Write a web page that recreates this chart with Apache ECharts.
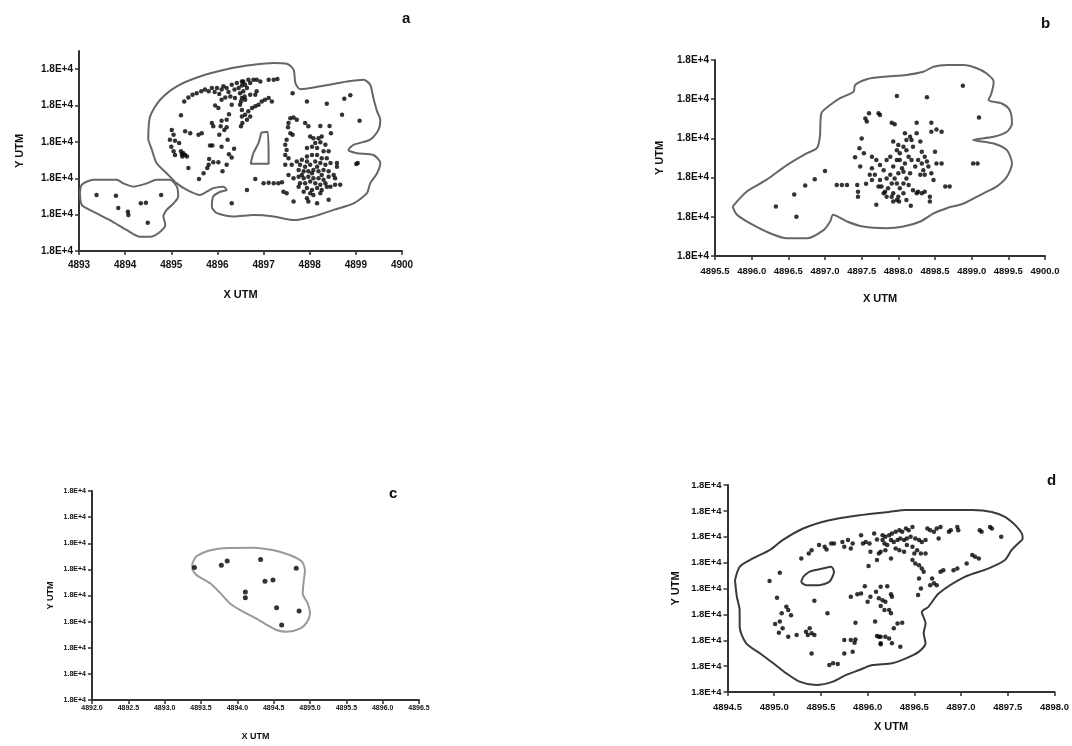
<!DOCTYPE html>
<html><head><meta charset="utf-8">
<script src="https://cdn.jsdelivr.net/npm/echarts@6/dist/echarts.min.js"></script>
<style>html,body{margin:0;padding:0;background:#fff}#c{width:1072px;height:746px}</style>
</head><body><div id="c"></div><script>
// ---- tick labels / axis texts ----
const yTickText = '1.8E+4';
const xName = 'X UTM';
const yName = 'Y UTM';
const panelLetters = ['a', 'b', 'c', 'd'];
const aXRange = [4893, 4900, 1];
const bXRange = [4895.5, 4900, 0.5];
const cXRange = [4892, 4896.5, 0.5];
const dXRange = [4894.5, 4898, 0.5];
const aYTicks = [0, 1, 2, 3, 4, 5];
const bYTicks = [0, 1, 2, 3, 4, 5];
const cYTicks = [0, 1, 2, 3, 4, 5, 6, 7, 8];
const dYTicks = [0, 1, 2, 3, 4, 5, 6, 7, 8];

// ---- panel a ----
const aHull = [[4894.50,3.06],[4894.54,3.70],[4894.76,4.16],[4895.12,4.53],[4895.62,4.80],[4896.20,5.00],[4896.78,5.12],[4897.22,5.17],[4897.50,5.15],[4897.65,4.99],[4897.69,4.62],[4897.79,4.45],[4898.23,4.53],[4898.81,4.66],[4899.17,4.71],[4899.31,4.57],[4899.38,4.21],[4899.46,3.84],[4899.53,3.61],[4899.49,3.33],[4899.31,3.06],[4898.95,2.92],[4898.84,2.78],[4899.02,2.69],[4899.38,2.64],[4899.53,2.42],[4899.46,2.14],[4899.31,1.86],[4899.24,1.59],[4898.95,1.31],[4898.52,1.13],[4898.08,0.95],[4897.65,0.85],[4897.22,0.95],[4896.78,0.99],[4896.35,0.95],[4895.99,1.04],[4895.88,1.22],[4895.91,1.50],[4896.06,1.63],[4896.20,1.68],[4896.13,1.77],[4895.91,1.73],[4895.77,1.63],[4895.62,1.54],[4895.34,1.68],[4895.12,1.86],[4894.90,2.14],[4894.68,2.42],[4894.58,2.78]];
const aHole = [[4896.95,3.26],[4897.09,3.28],[4897.11,2.40],[4896.72,2.40],[4896.78,2.69],[4896.89,2.97]];
const aHullSmall = [[4893.02,1.59],[4893.06,1.82],[4893.31,1.96],[4893.82,1.96],[4893.96,1.86],[4894.18,1.77],[4894.47,1.86],[4894.68,1.96],[4894.97,1.96],[4895.12,1.77],[4895.15,1.50],[4895.05,1.31],[4894.90,1.13],[4894.83,0.95],[4894.87,0.72],[4894.76,0.53],[4894.54,0.39],[4894.32,0.39],[4894.03,0.58],[4893.67,0.85],[4893.31,1.08],[4893.06,1.27]];
const aPoints = [
[4893.38,1.54],[4893.80,1.52],[4893.85,1.18],[4894.06,1.08],[4894.07,0.99],[4894.34,1.31],[4894.45,1.33],[4894.78,1.54],[4894.49,0.78],
[4895.28,4.11],[4895.37,4.22],[4895.46,4.30],[4895.55,4.34],[4895.65,4.39],[4895.73,4.44],[4895.81,4.39],[4895.88,4.48],[4895.94,4.37],[4895.99,4.48],[4896.04,4.32],[4896.09,4.44],[4896.13,4.53],[4896.20,4.48],[4896.24,4.37],[4896.31,4.57],[4896.37,4.44],[4896.42,4.62],[4896.46,4.48],[4896.49,4.34],[4896.53,4.55],[4896.56,4.66],[4896.59,4.25],[4896.51,4.11],[4896.38,4.21],[4896.28,4.25],[4896.17,4.22],[4896.09,4.16],[4895.95,4.00],[4896.02,3.93],[4896.31,4.02],[4896.25,3.76],[4896.20,3.61],[4896.09,3.58],[4896.07,3.43],[4896.15,3.33],[4896.20,3.40],[4895.88,3.52],[4895.91,3.43],[4896.04,3.20],[4896.22,3.06],[4896.36,2.81],[4896.25,2.66],[4896.31,2.57],[4896.20,2.37],[4896.11,2.19],[4896.02,2.44],[4895.91,2.44],[4895.82,2.53],[4895.81,2.37],[4895.78,2.28],[4895.70,2.14],[4895.60,1.98],[4895.37,2.28],[4895.21,3.73],[4895.30,3.29],[4895.41,3.24],[4895.59,3.20],[4895.66,3.24],[4895.01,3.33],[4895.05,3.20],[4894.97,3.06],[4895.08,3.03],[4895.17,2.97],[4895.00,2.87],[4895.05,2.74],[4895.08,2.64],[4895.21,2.74],[4895.26,2.69],[4895.30,2.64],[4895.24,2.60],[4895.34,2.60],[4895.23,2.66],[4895.84,2.90],[4895.89,2.90],[4896.09,2.87],[4896.51,3.43],[4896.54,3.52],[4896.53,3.70],[4896.49,4.02],[4896.31,1.31],
[4896.53,4.66],[4896.60,4.57],[4896.67,4.71],[4896.71,4.62],[4896.78,4.71],[4896.85,4.71],[4896.93,4.66],[4897.11,4.71],[4897.22,4.71],[4897.30,4.73],[4896.56,4.39],[4896.64,4.48],[4896.53,4.21],[4896.60,4.16],[4896.71,4.30],[4896.82,4.30],[4896.85,4.39],[4896.53,3.88],[4896.60,3.75],[4896.67,3.84],[4896.75,3.93],[4896.82,3.98],[4896.89,4.02],[4896.96,4.11],[4897.03,4.16],[4897.11,4.21],[4897.18,4.11],[4896.64,3.61],[4896.71,3.70],
[4897.63,4.34],[4897.94,4.11],[4898.37,4.05],[4898.75,4.19],[4898.88,4.28],[4898.70,3.75],[4899.08,3.58],[4899.01,2.39],[4899.04,2.42],[4896.82,1.98],[4897.00,1.86],[4897.11,1.88],[4897.22,1.86],[4897.32,1.86],[4897.40,1.89],[4896.64,1.68],
[4897.58,3.65],[4897.65,3.67],[4897.72,3.61],[4897.54,3.52],[4897.53,3.40],[4897.58,3.24],[4897.63,3.20],[4897.90,3.52],[4897.97,3.43],[4898.23,3.44],[4898.43,3.44],[4898.46,3.24],[4898.01,3.15],[4898.08,3.10],[4898.19,3.10],[4898.26,3.15],[4898.12,2.97],[4898.23,2.99],[4898.34,2.92],[4898.05,2.87],[4897.94,2.83],[4898.16,2.83],[4898.30,2.74],[4898.41,2.74],[4897.50,3.06],[4897.47,2.92],[4897.50,2.78],[4897.47,2.64],[4897.54,2.55],[4897.47,2.37],[4897.61,2.37],[4897.72,2.46],[4897.83,2.51],[4897.94,2.60],[4898.05,2.64],[4898.16,2.64],[4898.26,2.55],[4898.37,2.55],[4897.79,2.37],[4897.90,2.32],[4898.01,2.37],[4898.12,2.46],[4898.23,2.42],[4898.34,2.37],[4898.45,2.42],[4898.59,2.42],[4898.59,2.32],[4897.76,2.23],[4897.87,2.19],[4897.97,2.19],[4898.08,2.23],[4898.19,2.19],[4898.30,2.23],[4898.41,2.19],[4897.54,2.09],[4897.65,2.00],[4897.76,2.04],[4897.87,2.00],[4897.97,2.04],[4898.08,2.00],[4898.19,2.00],[4898.30,1.96],[4898.41,2.04],[4898.52,2.09],[4898.55,2.00],[4897.79,1.86],[4897.90,1.86],[4898.01,1.91],[4898.12,1.86],[4898.23,1.82],[4898.34,1.86],[4898.45,1.77],[4898.55,1.82],[4898.66,1.82],[4897.94,1.73],[4898.05,1.68],[4898.16,1.73],[4898.26,1.68],[4897.87,1.63],[4898.01,1.59],[4897.50,1.59],[4897.43,1.63],[4897.65,1.36],[4897.94,1.45],[4897.97,1.36],[4898.16,1.31],[4898.41,1.41],
[4897.83,2.09],[4897.94,2.46],[4898.16,2.32],[4898.05,2.14],[4898.26,2.09],[4898.37,1.77],[4897.76,1.77],[4898.08,1.54],[4898.23,1.59]
];

// ---- panel b ----
const bHull = [[4895.74,1.26],[4895.93,1.64],[4896.20,1.94],[4896.48,2.32],[4896.75,2.62],[4896.89,2.75],[4896.93,3.04],[4896.95,3.64],[4897.07,3.85],[4897.20,4.02],[4897.39,4.19],[4897.41,4.36],[4897.57,4.51],[4897.80,4.57],[4898.11,4.62],[4898.34,4.70],[4898.48,4.83],[4898.66,4.87],[4898.89,4.87],[4899.07,4.79],[4899.20,4.66],[4899.30,4.45],[4899.27,4.15],[4899.23,3.98],[4899.41,3.89],[4899.52,3.72],[4899.55,3.38],[4899.48,3.17],[4899.30,3.04],[4899.02,2.96],[4899.30,2.87],[4899.48,2.70],[4899.55,2.36],[4899.48,2.02],[4899.34,1.77],[4899.16,1.60],[4898.89,1.34],[4898.66,1.22],[4898.48,1.09],[4898.30,0.88],[4898.07,0.75],[4897.84,0.71],[4897.52,0.75],[4897.30,0.88],[4897.11,1.05],[4897.07,0.88],[4896.98,0.66],[4896.75,0.45],[4896.48,0.45],[4896.25,0.58],[4895.98,0.83],[4895.80,1.05]];
const bPoints = [
[4898.88,4.34],[4897.98,4.08],[4898.39,4.05],[4899.10,3.53],[4896.33,1.26],[4896.61,1.00],[4896.58,1.57],[4896.73,1.80],[4896.86,1.96],[4897.00,2.17],[4897.16,1.81],[4897.23,1.81],[4897.30,1.81],[4897.44,1.81],[4897.45,1.64],[4897.45,1.51],[4897.56,1.84],[4897.70,1.31],[4898.17,1.28],[4897.93,1.39],[4898.01,1.39],[4898.43,1.39],[4898.43,1.51],[4898.70,1.77],[4898.64,1.77],[4899.02,2.36],[4899.08,2.36],[4898.59,2.36],[4898.52,2.36],[4898.45,3.17],[4898.59,3.17],[4898.52,3.23],[4898.25,3.40],[4898.45,3.40],[4897.91,3.40],[4897.95,3.36],[4897.55,3.51],[4897.57,3.43],[4897.60,3.64],[4897.73,3.64],[4897.75,3.60],
[4897.50,3.00],[4897.47,2.75],[4897.41,2.52],[4897.53,2.62],[4897.48,2.28],[4897.64,2.53],[4897.64,2.24],[4897.61,2.07],[4897.70,2.45],[4897.75,2.32],[4897.80,2.19],[4897.84,2.45],[4897.89,2.53],[4897.93,2.28],[4897.98,2.45],[4898.02,2.62],[4898.07,2.79],[4898.11,2.96],[4898.09,3.13],[4898.16,3.04],[4898.25,3.13],[4898.30,2.92],[4898.32,2.66],[4898.36,2.53],[4898.39,2.41],[4898.41,2.28],[4898.45,2.11],[4898.48,1.94],[4898.34,2.19],[4898.30,2.07],[4898.23,2.28],[4898.18,2.45],[4898.14,2.53],[4898.09,2.36],[4898.05,2.24],[4898.00,2.11],[4897.95,1.98],[4897.91,1.85],[4897.86,1.73],[4897.82,1.64],[4897.77,1.77],[4897.73,1.77],[4897.75,1.94],[4897.84,1.98],[4897.89,2.07],[4897.98,1.85],[4898.02,1.73],[4898.07,1.85],[4898.11,1.98],[4898.16,2.11],[4898.14,1.81],[4898.20,1.68],[4898.25,1.60],[4898.32,1.60],[4898.36,1.64],[4897.93,1.60],[4898.00,1.51],[4898.07,1.60],[4898.11,1.43],[4897.80,1.60],[4897.84,1.51],[4897.91,1.51],[4897.98,1.43],[4898.02,2.45],[4898.07,2.15],[4897.98,2.70],[4898.11,2.70],[4898.20,2.79],[4898.18,2.96],[4898.27,2.45],[4898.32,2.36],[4898.50,2.66],[4898.27,1.64],[4898.36,2.07],[4897.64,1.94],[4897.68,2.07],[4897.93,2.92],[4898.00,2.83]
];

// ---- panel c ----
const cHull = [[4893.38,5.22],[4893.44,5.50],[4893.63,5.73],[4893.86,5.82],[4894.22,5.83],[4894.50,5.73],[4894.73,5.54],[4894.89,5.29],[4894.93,4.97],[4894.91,4.46],[4894.90,4.08],[4894.97,3.69],[4895.00,3.31],[4894.96,2.99],[4894.87,2.74],[4894.68,2.61],[4894.54,2.68],[4894.41,2.87],[4894.22,3.18],[4894.04,3.44],[4893.90,3.69],[4893.77,4.08],[4893.63,4.46],[4893.44,4.78],[4893.38,5.03]];
const cPoints = [[4893.41,5.07],[4893.78,5.16],[4893.86,5.32],[4894.32,5.38],[4894.81,5.04],[4894.38,4.55],[4894.49,4.59],[4894.11,4.13],[4894.11,3.91],[4894.54,3.53],[4894.85,3.41],[4894.61,2.87]];

// ---- panel d ----
const dHull = [[4894.58,4.32],[4894.63,4.84],[4894.77,5.16],[4894.95,5.48],[4895.09,5.87],[4895.31,6.32],[4895.59,6.64],[4895.91,6.83],[4896.23,6.96],[4896.41,7.03],[4896.76,7.03],[4897.12,7.03],[4897.33,6.96],[4897.47,6.77],[4897.58,6.45],[4897.65,6.13],[4897.66,5.93],[4897.61,5.74],[4897.54,5.48],[4897.47,5.10],[4897.29,4.77],[4897.04,4.45],[4896.76,3.81],[4896.65,3.29],[4896.58,3.10],[4896.62,2.65],[4896.60,2.27],[4896.62,1.88],[4896.55,1.56],[4896.41,1.30],[4896.26,1.11],[4896.05,1.04],[4895.91,0.85],[4895.77,0.66],[4895.63,0.40],[4895.45,0.27],[4895.27,0.40],[4895.13,0.72],[4894.99,1.11],[4894.85,1.49],[4894.70,1.88],[4894.63,2.52],[4894.63,3.17],[4894.60,3.68]];
const dHole = [[4895.31,4.45],[4895.38,4.65],[4895.52,4.77],[4895.61,4.84],[4895.64,4.65],[4895.59,4.26],[4895.48,4.13],[4895.34,4.13],[4895.29,4.26]];
const dPoints = [
[4894.95,4.29],[4895.06,4.61],[4895.03,3.64],[4895.13,3.29],[4895.15,3.17],[4895.18,2.97],[4895.08,3.04],[4895.01,2.63],[4895.06,2.72],[4895.09,2.46],[4895.05,2.29],[4895.15,2.14],[4895.24,2.20],[4895.29,5.16],[4895.37,5.35],[4895.40,5.48],[4895.48,5.68],[4895.54,5.61],[4895.56,5.51],[4895.61,5.74],[4895.64,5.74],[4895.73,5.80],[4895.75,5.61],[4895.79,5.87],[4895.82,5.55],[4895.84,5.74],[4895.93,6.06],[4895.95,5.74],[4895.98,5.80],[4896.02,5.74],[4896.03,5.42],[4896.07,6.13],[4896.10,5.89],[4896.16,5.87],[4896.19,6.00],[4896.21,5.68],[4896.12,5.35],[4896.10,5.10],[4896.01,4.87],[4895.43,3.53],[4895.57,3.04],[4895.34,2.33],[4895.38,2.46],[4895.40,2.27],[4895.43,2.20],[4895.36,2.20],[4895.40,1.49],[4895.75,2.01],[4895.82,2.01],[4895.87,2.03],[4895.86,1.90],[4895.75,1.49],[4895.84,1.56],[4895.59,1.04],[4895.63,1.11],[4895.68,1.08],[4895.82,3.68],[4895.89,3.78],[4895.93,3.81],[4895.97,4.09],[4896.00,3.49],[4896.03,3.68],[4896.09,3.87],[4896.12,3.62],[4896.16,3.55],[4896.14,3.32],[4896.08,2.72],[4895.87,2.68],[4896.10,2.16],[4896.14,2.14],[4896.14,1.85],
[4896.16,6.06],[4896.23,6.06],[4896.26,6.13],[4896.30,6.19],[4896.34,6.25],[4896.37,6.19],[4896.41,6.32],[4896.44,6.25],[4896.48,6.38],[4896.18,5.74],[4896.25,5.87],[4896.28,5.80],[4896.32,5.87],[4896.35,5.93],[4896.39,5.87],[4896.42,5.93],[4896.46,6.00],[4896.51,5.93],[4896.55,5.87],[4896.58,5.80],[4896.62,5.87],[4896.64,6.32],[4896.67,6.25],[4896.71,6.19],[4896.74,6.32],[4896.78,6.38],[4896.76,5.93],[4896.87,6.19],[4896.89,6.25],[4896.96,6.38],[4896.97,6.25],[4897.20,6.25],[4897.22,6.19],[4897.31,6.38],[4897.33,6.32],[4897.43,6.00],[4896.14,5.42],[4896.19,5.48],[4896.25,5.16],[4896.30,5.55],[4896.34,5.48],[4896.39,5.42],[4896.42,5.68],[4896.48,5.61],[4896.50,5.35],[4896.53,5.48],[4896.57,5.35],[4896.62,5.35],[4896.48,5.10],[4896.51,4.97],[4896.55,4.90],[4896.58,4.77],[4896.60,4.65],[4896.55,4.39],[4896.57,4.00],[4896.54,3.75],[4896.69,4.39],[4896.71,4.20],[4896.67,4.13],[4896.74,4.13],[4896.78,4.65],[4896.81,4.71],[4896.92,4.71],[4896.96,4.77],[4897.06,4.97],[4897.12,5.29],[4897.15,5.23],[4897.19,5.16],[4896.14,4.07],[4896.21,4.09],[4896.25,3.78],[4896.26,3.68],[4896.19,3.49],[4896.23,3.17],[4896.25,3.04],[4896.18,3.17],[4896.28,2.46],[4896.32,2.65],[4896.37,2.68],[4896.12,2.14],[4896.19,2.14],[4896.23,2.07],[4896.26,1.88],[4896.35,1.75],[4896.14,1.88]
];

// ---- chart ----
const FONT = 'Liberation Sans';
const close = arr => arr.concat([arr[0]]);
const grids = [
  {left: 79, top: 51, width: 323, height: 200},
  {left: 715, top: 60, width: 330, height: 196},
  {left: 92, top: 491, width: 327, height: 209},
  {left: 727.5, top: 485, width: 329, height: 207}
];
const axisLine = {lineStyle: {color: '#333', width: 2}};
function mkX(gi, rng, digits, fs, margin, gap, nfs) {
  return {type: 'value', gridIndex: gi, min: rng[0], max: rng[1], interval: rng[2],
    axisLine: axisLine, axisTick: {length: 4, lineStyle: {color: '#333', width: 1.5}},
    splitLine: {show: false},
    axisLabel: {formatter: v => v.toFixed(digits), fontFamily: FONT, fontWeight: 'bold', fontSize: fs, color: '#111', margin: margin, hideOverlap: false},
    name: xName, nameLocation: 'middle', nameGap: gap,
    nameTextStyle: {fontFamily: FONT, fontWeight: 'bold', fontSize: nfs, color: '#111'}};
}
function mkY(gi, ticks, max, fs, gap, nfs) {
  return {type: 'value', gridIndex: gi, min: 0, max: max, interval: 1,
    axisLine: axisLine,
    axisTick: {length: 4, customValues: ticks, lineStyle: {color: '#333', width: 1.5}},
    splitLine: {show: false},
    axisLabel: {customValues: ticks, formatter: () => yTickText, fontFamily: FONT, fontWeight: 'bold', fontSize: fs, color: '#111', margin: 6},
    name: yName, nameLocation: 'middle', nameRotate: 90, nameGap: gap,
    nameTextStyle: {fontFamily: FONT, fontWeight: 'bold', fontSize: nfs, color: '#111'}};
}
function scat(i, data, size) {
  return {type: 'scatter', xAxisIndex: i, yAxisIndex: i, data: data, symbolSize: size,
    itemStyle: {color: '#000'}, silent: true, z: 3};
}
function hull(i, data, color, w) {
  return {type: 'line', xAxisIndex: i, yAxisIndex: i, data: close(data), showSymbol: false,
    smooth: 0.25, lineStyle: {color: color, width: w}, silent: true, z: 2};
}
const titlePos = [[397, 6], [1036, 11], [384, 481], [1042, 468]];
const option = {
  backgroundColor: '#fff',
  animation: false,
  title: panelLetters.map((t, i) => ({text: t, left: titlePos[i][0], top: titlePos[i][1],
    textStyle: {fontFamily: FONT, fontWeight: 900, fontSize: 15, color: '#111'}})),
  grid: grids,
  xAxis: [mkX(0, aXRange, 0, 10, 9, 38, 11), mkX(1, bXRange, 1, 9.5, 10, 37, 11), mkX(2, cXRange, 1, 7, 5, 32, 9), mkX(3, dXRange, 1, 9.5, 10, 29, 11)],
  yAxis: [mkY(0, aYTicks, 5.5, 10, 54, 11), mkY(1, bYTicks, 5, 10, 50, 11), mkY(2, cYTicks, 8, 7, 37, 9), mkY(3, dYTicks, 8, 9.5, 46, 11)],
  series: [
    hull(0, aHull, '#666', 2), hull(0, aHole, '#666', 2), hull(0, aHullSmall, '#666', 2), scat(0, aPoints, 4.5),
    hull(1, bHull, '#666', 2), scat(1, bPoints, 4.5),
    hull(2, cHull, '#999', 2), scat(2, cPoints, 5),
    hull(3, dHull, '#3a3a3a', 2), hull(3, dHole, '#3a3a3a', 2), scat(3, dPoints, 4.5)
  ]
};
const chart = echarts.init(document.getElementById('c'), null, {renderer: 'canvas'});
chart.setOption(option);
</script></body></html>
